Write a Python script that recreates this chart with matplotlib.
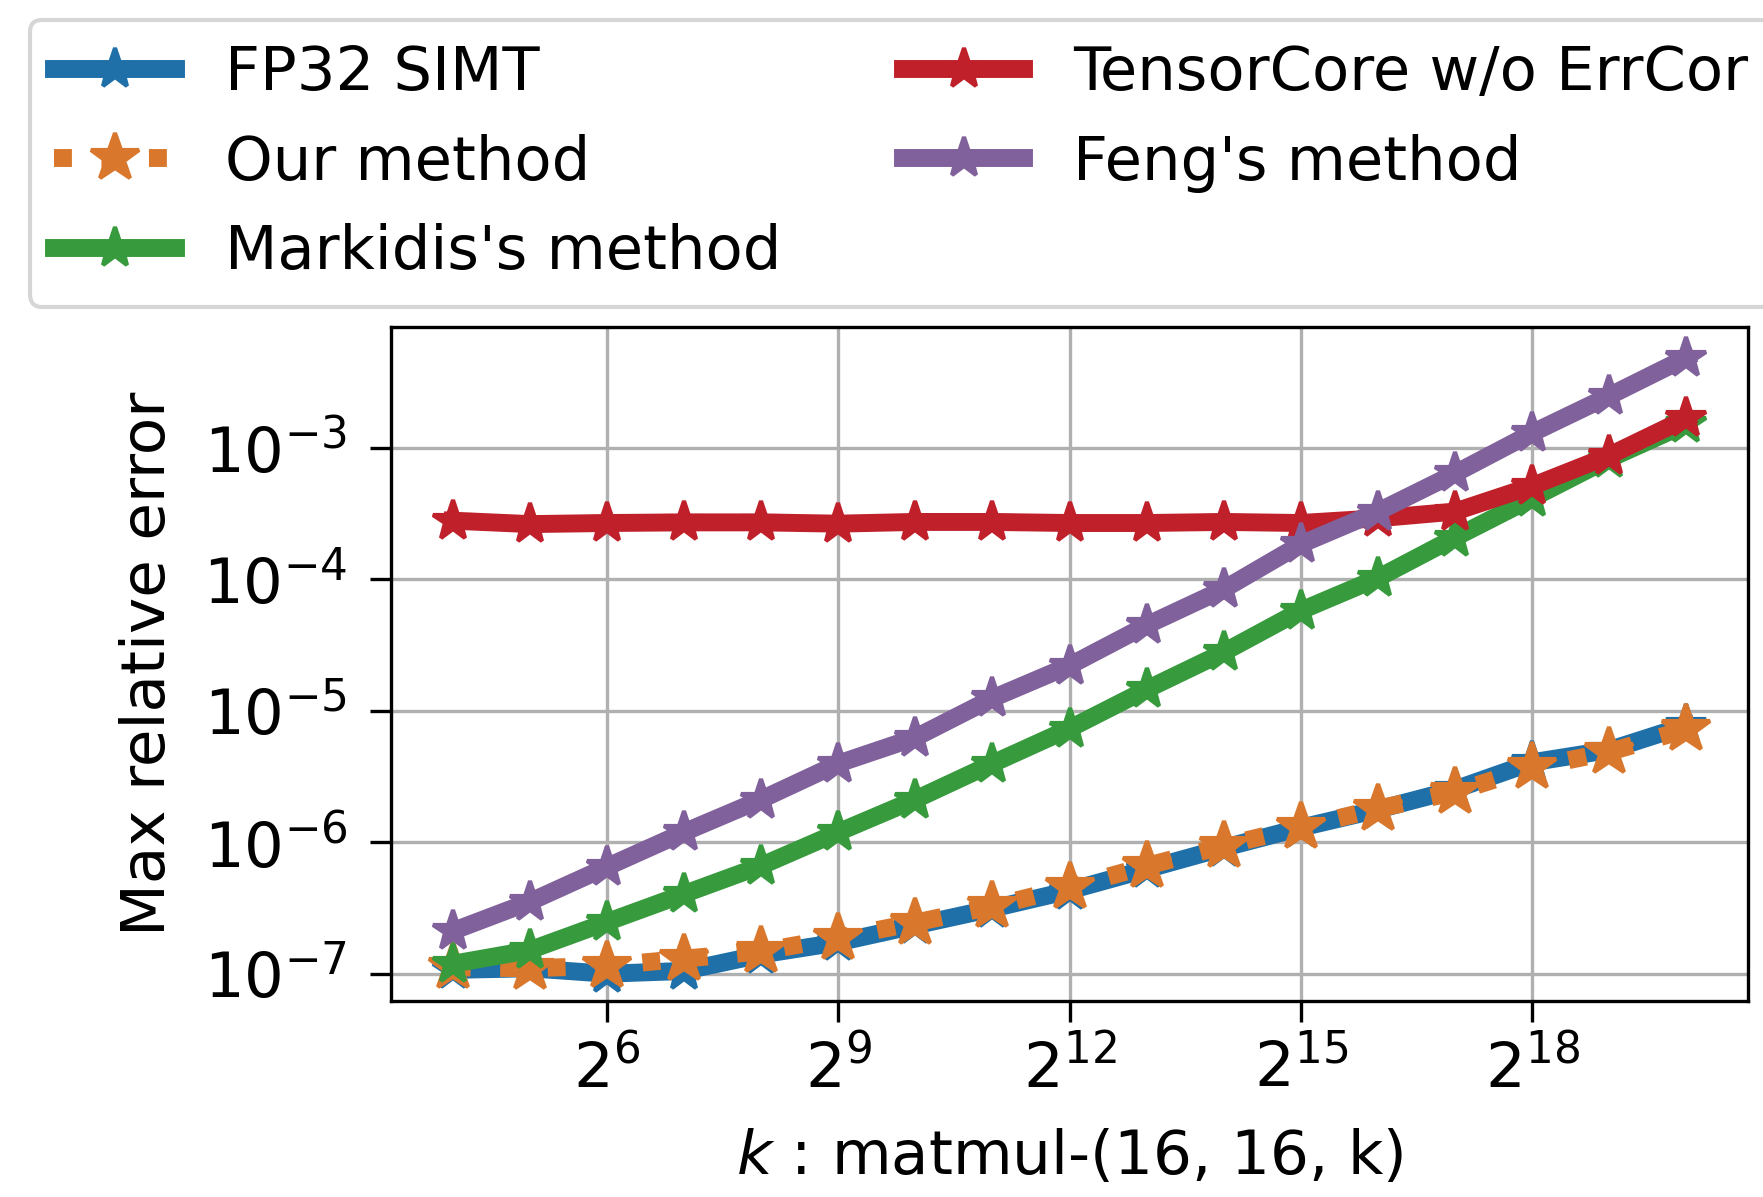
import numpy as np
import matplotlib
matplotlib.use('Agg')
import matplotlib.pyplot as plt
from matplotlib.ticker import NullLocator

plt.rcParams['font.size'] = 14.7

k = [2 ** p for p in range(4, 21)]

fp32_simt = [1.07e-7, 1.10e-7, 1.0e-7, 1.05e-7, 1.40e-7, 1.73e-7, 2.33e-7, 3.13e-7, 4.29e-7,
             6.23e-7, 9.06e-7, 1.29e-6, 1.77e-6, 2.52e-6, 4.05e-6, 5.02e-6, 7.74e-6]
our_method = [1.12e-7, 1.10e-7, 1.15e-7, 1.30e-7, 1.48e-7, 1.88e-7, 2.45e-7, 3.25e-7, 4.55e-7,
              6.6e-7, 9.4e-7, 1.30e-6, 1.80e-6, 2.40e-6, 3.70e-6, 4.85e-6, 7.2e-6]
markidis = [1.19e-7, 1.51e-7, 2.47e-7, 4.04e-7, 6.62e-7, 1.19e-6, 2.11e-6, 3.96e-6, 7.3e-6,
            1.45e-5, 2.78e-5, 5.76e-5, 1.02e-4, 2.07e-4, 4.12e-4, 8.22e-4, 1.51e-3]
tc_no_errcor = [2.78e-4, 2.62e-4, 2.67e-4, 2.70e-4, 2.70e-4, 2.64e-4, 2.72e-4, 2.72e-4, 2.67e-4,
                2.67e-4, 2.72e-4, 2.67e-4, 2.90e-4, 3.26e-4, 5.1e-4, 8.7e-4, 1.67e-3]
feng = [2.11e-7, 3.52e-7, 6.49e-7, 1.19e-6, 2.11e-6, 3.96e-6, 6.24e-6, 1.24e-5, 2.2e-5,
        4.46e-5, 8.38e-5, 1.84e-4, 3.26e-4, 6.36e-4, 1.29e-3, 2.47e-3, 4.83e-3]

fig = plt.figure(figsize=(1763 / 300, 1197 / 300), dpi=300)
ax = fig.add_axes([0.2218, 0.1637, 0.9915 - 0.2218, 0.7268 - 0.1637])

ax.plot(k, fp32_simt, '-', marker='*', color='#1f6fa8', lw=4.3, ms=10, label='FP32 SIMT')
ax.plot(k, our_method, ':', marker='*', color='#d9782c', lw=4.3, ms=12, label='Our method')
ax.plot(k, markidis, '-', marker='*', color='#379a3c', lw=4.3, ms=10, label="Markidis's method")
ax.plot(k, tc_no_errcor, '-', marker='*', color='#c0202a', lw=4.3, ms=10, label='TensorCore w/o ErrCor')
ax.plot(k, feng, '-', marker='*', color='#80619b', lw=4.3, ms=10, label="Feng's method")

ax.set_xscale('log', base=2)
ax.set_yscale('log')
ax.set_xticks([2 ** p for p in [6, 9, 12, 15, 18]])
ax.xaxis.set_minor_locator(NullLocator())
ax.yaxis.set_minor_locator(NullLocator())
ax.set_ylim(6.2e-8, 8.25e-3)
ax.grid(True)
ax.tick_params(axis='both', which='major', length=5, labelsize=15)
ax.tick_params(axis='x', pad=4)
ax.tick_params(axis='y', pad=5.5)

ax.set_xlabel('$k$ : matmul-(16, 16, k)', labelpad=6.5)
ax.set_ylabel('Max relative error', labelpad=6)

ax.legend(ncol=2, loc='upper left', bbox_to_anchor=(30 / 1763, 1 - 20 / 1197),
          bbox_transform=fig.transFigure, borderaxespad=0, fontsize=14.6)

fig.savefig('out.png', dpi=300)
